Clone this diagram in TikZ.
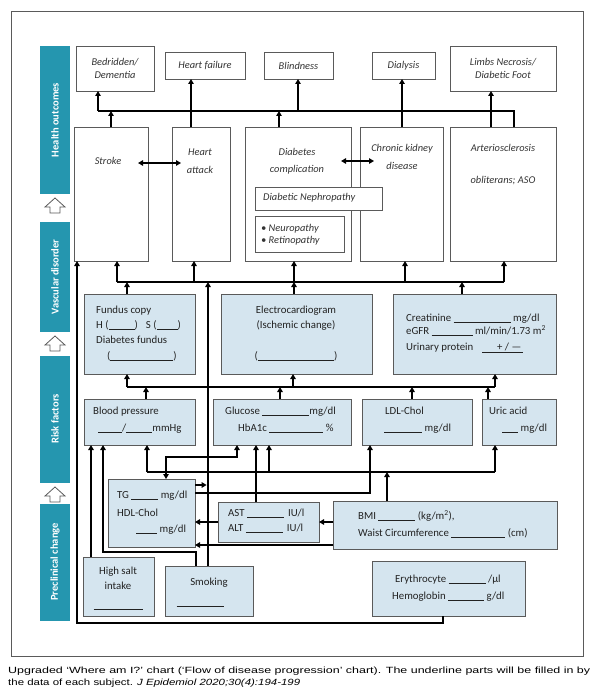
\documentclass[tikz,border=0pt]{standalone}
\usepackage{graphicx}
\usepackage{fontspec}
\setmainfont{Carlito}
\newfontfamily\capfont{Liberation Sans}
\usetikzlibrary{arrows.meta,calc}
\definecolor{teal1}{HTML}{2596AF}
\definecolor{lblue}{HTML}{D5E5EF}
\definecolor{bgray}{HTML}{5A5A5A}
\definecolor{txtg}{HTML}{333333}
\definecolor{txtb}{HTML}{222222}
\newcommand{\blk}[2][0.7]{\rule[-1.2pt]{#2pt}{#1pt}}
\newcommand{\itfnt}{\fontsize{10.4}{13}\selectfont\itshape}
\newcommand{\rfnt}{\fontsize{10.8}{13}\selectfont}
\newcommand{\bfnt}{\fontsize{10.5}{12}\selectfont\bfseries}
\newcommand{\bx}[7]{\node[#1,minimum width={(#5-#3)*1pt},minimum height={(#6-#4)*1pt}] (#2) at ({(#3+#5)/2},{(#4+#6)/2}) {#7};}
\begin{document}
\begin{tikzpicture}[x=1pt,y=-1pt,
  bxs/.style={draw=bgray,line width=0.8pt,inner sep=0pt,outer sep=0pt,rectangle},
  wbox/.style={bxs,fill=white,font=\itfnt,text=txtg,align=center},
  bbox/.style={bxs,fill=lblue},
  con/.style={line width=1.8pt,line join=miter},
  thn/.style={line width=1.4pt,line join=miter},
  bus/.style={line width=2.4pt,line join=miter},
  hcon/.style={line width=2.8pt,line join=miter},
  tip/.style={-{Triangle[length=5pt,width=5.5pt]}},
  dtip/.style={{Triangle[length=5pt,width=5.5pt]}-{Triangle[length=5pt,width=5.5pt]}},
  itx/.style={font=\itfnt,text=txtg,inner sep=0pt,text height=7pt,text depth=2pt},
  rtx/.style={font=\rfnt,text=txtb,inner sep=0pt,text height=7pt,text depth=2pt,anchor=west},
  ctx/.style={font=\rfnt,text=txtb,inner sep=0pt,text height=7pt,text depth=2pt},
  barlab/.style={font=\bfnt,text=white,rotate=90,inner sep=0pt},
  upar/.style={draw=bgray,fill=white,line width=0.8pt,line join=miter}
]
\fill[white] (0,0) rectangle (598,698);
\useasboundingbox (0,0) rectangle (598,698);
\draw[bgray,line width=0.9pt] (11,11) rectangle (583,656);

% side bars
\fill[teal1] (40,46) rectangle (70,194);
\fill[teal1] (40,222) rectangle (70,332);
\fill[teal1] (40,356) rectangle (70,483);
\fill[teal1] (40,504) rectangle (70,621);
\node[barlab] (lab1) at (55,120) {Health outcomes};
\node[barlab] (lab2) at (55,277) {Vascular disorder};
\node[barlab] (lab3) at (55,419) {Risk factors};
\node[barlab] (lab4) at (55,562) {Preclinical change};
\draw[upar] (55,198) -- (65,207) -- (60,207) -- (60,213) -- (50,213) -- (50,207) -- (45,207) -- cycle;
\draw[upar] (55,336) -- (65,345) -- (60,345) -- (60,351) -- (50,351) -- (50,345) -- (45,345) -- cycle;
\draw[upar] (55,487) -- (65,496) -- (60,496) -- (60,502) -- (50,502) -- (50,496) -- (45,496) -- cycle;

% outcome boxes
\bx{wbox}{bed}{76}{46}{154}{91}{Bedridden/\\Dementia}
\bx{wbox}{hf}{165}{52}{245}{79}{Heart failure}
\bx{wbox}{blind}{264}{52}{333}{79}{Blindness}
\bx{wbox}{dial}{372}{52}{435}{79}{Dialysis}
\bx{wbox}{limbs}{450}{46}{556}{91}{Limbs Necrosis/\\Diabetic Foot}

% vascular boxes
\bx{wbox}{stroke}{74}{127}{148}{261}{}
\bx{wbox}{ha}{172}{127}{230}{261}{}
\bx{wbox}{dc}{245}{127}{351}{261}{}
\bx{wbox}{ckd}{360}{127}{443}{261}{}
\bx{wbox}{aso}{450}{127}{556}{261}{}
\bx{wbox}{dn}{255}{187}{382}{210}{}
\bx{wbox}{neu}{255}{216}{344}{252}{}
\node[itx] (tstroke) at (108,162) {Stroke};
\node[itx] (tha1) at (200,153) {Heart};
\node[itx] (tha2) at (200,171) {attack};
\node[itx] (tdc1) at (297,153) {Diabetes};
\node[itx] (tdc2) at (297,170) {complication};
\node[itx] (tck1) at (402,149) {Chronic kidney};
\node[itx] (tck2) at (402,167) {disease};
\node[itx] (tas1) at (503,149) {Arteriosclerosis};
\node[itx] (tas2) at (503,181) {obliterans; ASO};
\node[itx,anchor=west] (tdn) at (263,198) {Diabetic Nephropathy};
\node[itx,anchor=west] (tne1) at (261,229) {• Neuropathy};
\node[itx,anchor=west] (tne2) at (261,241) {• Retinopathy};

% risk tier 1
\bx{bbox}{fundus}{84}{294}{195}{374}{}
\bx{bbox}{ecg}{221}{294}{372}{374}{}
\bx{bbox}{creat}{393}{294}{556}{374}{}
\node[rtx] (tf1) at (96,311) {Fundus copy};
\node[rtx] (tf2) at (96,326) {H (\blk{26})\hspace{8pt}S (\blk{21})};
\node[rtx] (tf3) at (96,341) {Diabetes fundus};
\node[rtx] (tf4) at (107,357) {(\blk{63})};
\node[ctx] (te1) at (296,311) {Electrocardiogram};
\node[ctx] (te2) at (296,326) {(Ischemic change)};
\node[ctx] (te3) at (296,357) {(\blk{76})};
\node[rtx] (tc1) at (406,319) {Creatinine \blk{57} mg/dl};
\node[rtx] (tc2) at (406,332) {eGFR \blk[1.2]{41} ml/min/1.73 m\textsuperscript{2}};
\node[rtx] (tc3) at (406,348) {Urinary protein\hspace{9pt}\underline{\makebox[41pt][r]{+ / —\hspace{2pt}}}};

% risk tier 2
\bx{bbox}{bp}{84}{399}{195}{445}{}
\bx{bbox}{glu}{213}{399}{351}{445}{}
\bx{bbox}{ldl}{362}{399}{472}{445}{}
\bx{bbox}{uric}{482}{399}{556}{445}{}
\node[rtx] (tb1t) at (93,412) {Blood pressure};
\node[rtx] (tb2t) at (98,429) {\blk{24}/\blk{26}mmHg};
\node[rtx] (tg1t) at (225,412) {Glucose \blk{47}mg/dl};
\node[rtx] (tg2t) at (238,429) {HbA1c \blk[1.1]{54} \%};
\node[rtx] (tl1) at (385,412) {LDL-Chol};
\node[rtx] (tl2) at (384,429) {\blk[1.1]{38} mg/dl};
\node[rtx] (tu1) at (489,412) {Uric acid};
\node[rtx] (tu2) at (502,429) {\blk[1.1]{16} mg/dl};

% preclinical
\bx{bbox}{tg}{108}{479}{195}{547}{}
\bx{bbox}{ast}{218}{502}{319}{542}{}
\bx{bbox}{bmi}{333}{501}{557}{549}{}
\bx{bbox}{salt}{83}{557}{154}{616}{}
\bx{bbox}{smoke}{165}{566}{253}{616}{}
\bx{bbox}{ery}{372}{561}{525}{616}{}
\node[rtx] (tt1) at (117,496) {TG \blk{27} mg/dl};
\node[rtx] (tt2) at (117,514) {HDL-Chol};
\node[rtx] (tt3) at (136,530) {\blk[1.1]{21} mg/dl};
\node[rtx] (ta1) at (228,514) {AST \blk{37}\hspace{4pt}IU/l};
\node[rtx] (ta2) at (228,529) {ALT \blk{37}\hspace{4pt}IU/l};
\node[rtx] (tm1) at (358,517) {BMI \blk[1.1]{37} (kg/m\textsuperscript{2}),};
\node[rtx] (tm2) at (358,534) {Waist Circumference \blk{54} (cm)};
\node[ctx] (ts1) at (118,572) {High salt};
\node[ctx] (ts2) at (118,587) {intake};
\node[ctx] (ts3) at (118,606) {\blk{49}};
\node[ctx] (tk1) at (209,583) {Smoking};
\node[ctx] (tk2) at (200,603) {\blk{47}};
\node[rtx] (tr1) at (395,580) {Erythrocyte \blk{37} /μl};
\node[rtx] (tr2) at (392,597) {Hemoglobin \blk{36} g/dl};

% ---------- connectors: top tier
\coordinate (tb1) at (98,111);
\coordinate (tb2) at (514,111);
\coordinate (tbS) at (111,111);
\coordinate (tbH) at (191,111);
\coordinate (tbD) at (279,111);
\coordinate (tbB) at (298,111);
\coordinate (tbK) at (402,111);
\coordinate (tbA) at (491,111);
\draw[bus] (aso.north -| tb2) -- (tb2) -- (tb1);
\draw[con,tip] (tb1) -- (bed.south -| tb1);
\draw[con,tip] (stroke.north -| tbS) -- (tbS);
\draw[hcon,tip] (ha.north -| tbH) -- (hf.south -| tbH);
\draw[con,tip] (dc.north -| tbD) -- (tbD);
\draw[con,tip] (tbB) -- (blind.south -| tbB);
\draw[con,tip] (ckd.north -| tbK) -- (dial.south -| tbK);
\draw[hcon,tip] (aso.north -| tbA) -- (limbs.south -| tbA);
\coordinate (d1) at (138,163);
\coordinate (d2) at (181,163);
\coordinate (d3) at (341,161);
\coordinate (d4) at (374,161);
\draw[con,dtip] (d1) -- (d2);
\draw[con,dtip] (d3) -- (d4);

% ---------- vascular bus
\coordinate (vb1) at (117,282);
\coordinate (vb2) at (504,282);
\coordinate (vbH) at (194,282);
\coordinate (vbD) at (294,282);
\coordinate (vbK) at (405,282);
\coordinate (vbF) at (127,282);
\coordinate (vbC) at (462,282);
\coordinate (vbS) at (208,282);
\draw[bus] (vb1) -- (vb2);
\draw[con,tip] (vb1) -- (stroke.south -| vb1);
\draw[con,tip] (vbH) -- (ha.south -| vbH);
\draw[con,tip] (vbD) -- (dc.south -| vbD);
\draw[con,tip] (vbK) -- (ckd.south -| vbK);
\draw[con,tip] (vb2) -- (aso.south -| vb2);
\draw[con,tip] (fundus.north -| vbF) -- (vbF);
\draw[con,tip] (ecg.north -| vbD) -- (vbD);
\draw[con,tip] (creat.north -| vbC) -- (vbC);

% ---------- risk bus
\coordinate (rb1) at (127,387);
\coordinate (rb2) at (495,387);
\coordinate (rbE) at (293,387);
\coordinate (rbB) at (146,387);
\coordinate (rbG) at (280,387);
\coordinate (rbL) at (412,387);
\coordinate (rbU) at (488,387);
\draw[bus] (rb1) -- (rb2);
\draw[con,tip] (rb1) -- (fundus.south -| rb1);
\draw[con,tip] (rbE) -- (ecg.south -| rbE);
\draw[con,tip] (rb2) -- (creat.south -| rb2);
\draw[con,tip] (bp.north -| rbB) -- (rbB);
\draw[con,tip] (glu.north -| rbG) -- (rbG);
\draw[con,tip] (ldl.north -| rbL) -- (rbL);
\draw[con,tip] (uric.north -| rbU) -- (rbU);

% ---------- preclinical
\coordinate (pb1) at (147,472);
\coordinate (pb2) at (495,472);
\coordinate (pbG) at (269,472);
\coordinate (pbM) at (387,472);
\draw[bus] (pb1) -- (pb2);
\draw[con,tip] (pb1) -- (bp.south -| pb1);
\draw[hcon,tip] (pbG) -- (glu.south -| pbG);
\draw[con,tip] (pb2) -- (uric.south -| pb2);
\draw[hcon,tip] (bmi.north -| pbM) -- (pbM);
\coordinate (qL) at (370,493);
\draw[thn,tip] (tg.east |- qL) -- (qL) -- (ldl.south -| qL);
\coordinate (g1) at (166,457);
\coordinate (g2) at (237,457);
\draw[con,dtip] (tg.north -| g1) -- (g1) -- (g2) -- (glu.south -| g2);
\coordinate (aG) at (256,480);
\draw[con,tip] (ast.north -| aG) -- (glu.south -| aG);
\draw[con,tip] (ast.west) -- (ast.west -| tg.east);
\draw[con,tip] (bmi.west |- ast.east) -- (ast.east);
\coordinate (bT) at (300,545);
\draw[con,tip] (bmi.west |- bT) -- (tg.east |- bT);
\coordinate (tS) at (206.6,485);
\draw[con,tip] (tg.east |- tS) -- (tS);
\coordinate (sB) at (91,500);
\draw[hcon,tip] (salt.north -| sB) -- (bp.south -| sB);
\coordinate (k1) at (196,552);
\coordinate (k2) at (103,552);
\draw[hcon,tip] (smoke.north -| k1) -- (k1) -- (k2) -- (bp.south -| k2);
\draw[hcon,tip] (smoke.north -| vbS) -- (vbS);
\coordinate (lpA) at (443,623);
\coordinate (lpB) at (77,623);
\draw[bus,tip] (ery.south -| lpA) -- (lpA) -- (lpB) -- (stroke.south -| lpB);

% caption
\node[anchor=base west,inner sep=0pt] (cap1) at (8,673) {\resizebox{582pt}{\height}{\capfont\fontsize{9}{10}\selectfont Upgraded ‘Where am I?’ chart (‘Flow of disease progression’ chart). The underline parts will be filled in by}};
\node[anchor=base west,inner sep=0pt] (cap2) at (8,685) {\resizebox{292pt}{\height}{\capfont\fontsize{9}{10}\selectfont the data of each subject. \textit{J Epidemiol 2020;30(4):194-199}}};
\end{tikzpicture}
\end{document}
